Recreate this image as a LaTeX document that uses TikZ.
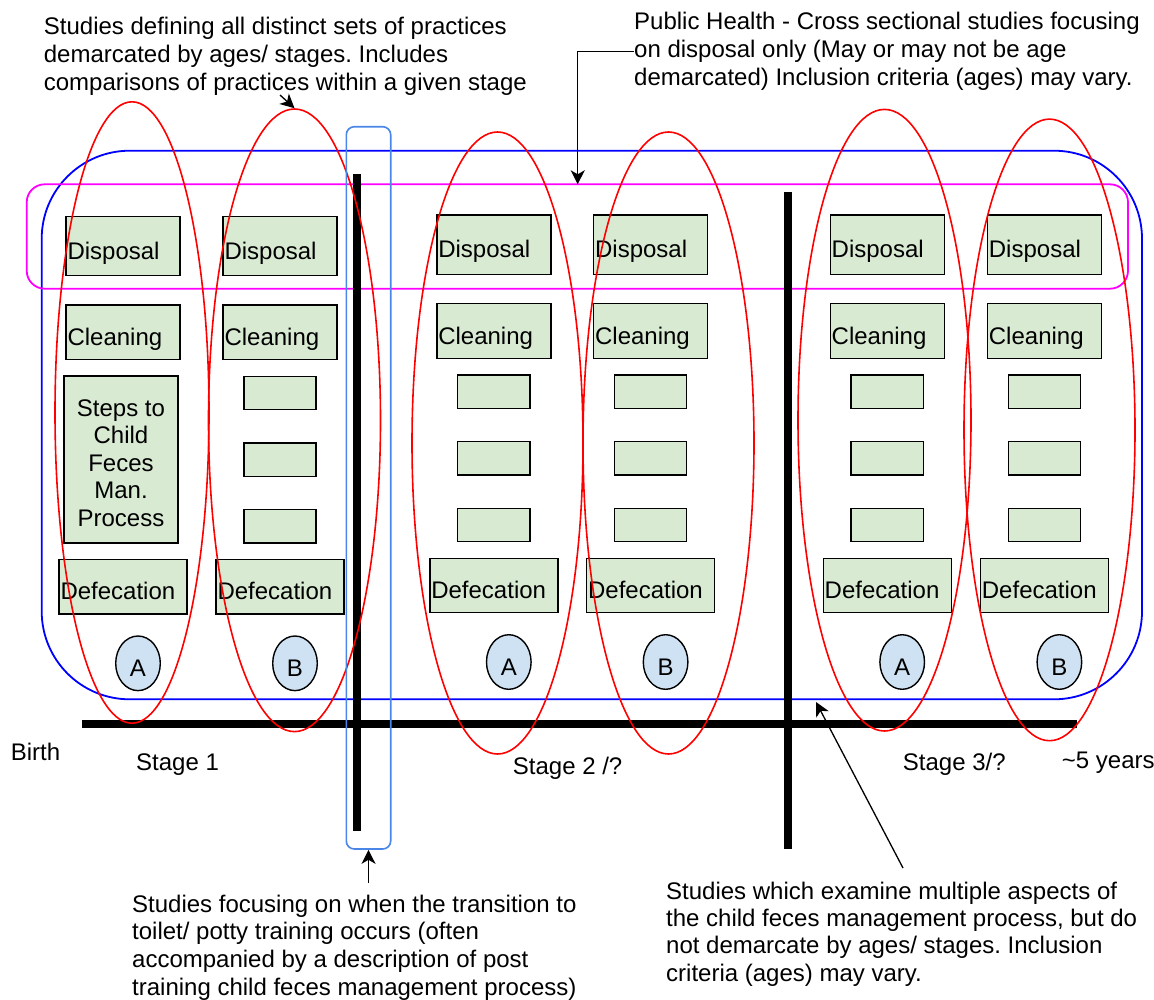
\documentclass[tikz,border=0pt]{standalone}
\usepackage{fontspec}
\setmainfont{Liberation Sans}
\usetikzlibrary{shapes.geometric,arrows.meta,calc}
\frenchspacing

\definecolor{boxgreen}{HTML}{D9EAD3}
\definecolor{tagblue}{HTML}{CFE2F3}
\definecolor{transblue}{HTML}{4A86E8}
\definecolor{frameblue}{HTML}{0000FF}
\definecolor{bandpink}{HTML}{FF00FF}
\definecolor{groupred}{HTML}{FF0000}

\tikzset{
  gbox/.style={draw=black, fill=boxgreen, line width=1.4pt, inner ysep=0pt, inner xsep=1.5pt,
    text height=26pt, text depth=0pt, align=left, minimum height=#1},
  nbox/.style={gbox=#1, text width=111pt},
  wbox/.style={gbox=#1, text width=125pt},
  sbox/.style={draw=black, fill=boxgreen, line width=1.4pt, minimum width=72.3pt,
    minimum height=33.3pt, inner sep=0pt},
  tag/.style={ellipse, draw=black, fill=tagblue, line width=1.4pt, minimum width=44.6pt,
    minimum height=54.6pt, inner sep=0pt, text height=26pt, text depth=0pt},
  group/.style={ellipse, draw=groupred, line width=1.6pt, inner sep=0pt},
  bar/.style={line width=8pt, black},
  note/.style={inner sep=0pt, anchor=base west},
  pointer/.style={line width=1.3pt, -{Stealth[length=14pt, width=14pt, inset=4pt]}}
}

\begin{document}
\begin{tikzpicture}[x=1pt, y=-1pt, font=\fontsize{24}{27.6}\selectfont]
\useasboundingbox (0,0) rectangle (1154,999);

% age-range frame and disposal band
\node[draw=frameblue, line width=1.8pt, rounded corners=88pt, minimum width=1100.3pt,
  minimum height=548.6pt, inner sep=0pt] (frame) at (591.85,425) {};
\node[draw=bandpink, line width=1.8pt, rounded corners=18pt, minimum width=1101.3pt,
  minimum height=104.4pt, inner sep=0pt] (band) at (577.35,236.5) {};

% timeline and stage dividers
\draw[bar] (81.7,724) -- (1077,724);
\draw[bar] (357,174) -- (357,831);
\draw[bar] (788,192.3) -- (788,849.3);

% practice columns
\foreach \n/\x/\dy/\t in {a1/123/1.3/A, b1/280/1.3/B, a2/493.8/0/A, b2/650.6/0/B, a3/887.2/0/A, b3/1044.4/0/B} {
  \node[nbox=59.3pt] (disp-\n) at (\x,244.7+\dy) {Disposal};
  \node[nbox=54.6pt] (clean-\n) at (\x,331+\dy) {Cleaning};
  \node[wbox=54.4pt] (def-\n) at (\x,585.5+\dy) {Defecation};
  \node[tag] (tag-\n) at (\x+15,662+\dy) {\t};
}
\foreach \n/\x/\dy in {b1/280/1.3, a2/493.8/0, b2/650.6/0, a3/887.2/0, b3/1044.4/0} {
  \node[sbox] (s1-\n) at (\x,391.7+\dy) {};
  \node[sbox] (s2-\n) at (\x,458.3+\dy) {};
  \node[sbox] (s3-\n) at (\x,525+\dy) {};
}
\node[draw=black, fill=boxgreen, line width=1.4pt, minimum width=114pt, minimum height=167pt,
  inner sep=0pt] (steps) at (121,459.5) {};
\node[inner sep=0pt, anchor=base, font=\fontsize{24}{27.5}\selectfont] (steps-text) at (121,416)
  {\begin{tabular}[t]{@{}c@{}}Steps to\\Child\\Feces\\Man.\\Process\end{tabular}};

% study groupings
\node[group, minimum width=154pt, minimum height=621.4pt] (e1) at (132,412.5) {};
\node[group, minimum width=172pt, minimum height=622.6pt] (e2) at (294.5,420.3) {};
\node[group, minimum width=171pt, minimum height=622pt] (e3) at (497.5,443) {};
\node[group, minimum width=171pt, minimum height=622pt] (e4) at (668.5,443) {};
\node[group, minimum width=173pt, minimum height=621.6pt] (e5) at (884.5,420.2) {};
\node[group, minimum width=171pt, minimum height=621.6pt] (e6) at (1049.5,429.9) {};

% transition window
\node[draw=transblue, line width=1.6pt, rounded corners=8pt, minimum width=44.4pt,
  minimum height=722.3pt, inner sep=0pt] (trans) at (368.5,487.85) {};

% annotations
\node[note, font=\fontsize{24}{28}\selectfont] (allsets) at (43.7,34)
  {\begin{tabular}[t]{@{}l@{}}Studies defining all distinct sets of practices\\demarcated by ages/ stages. Includes\\comparisons of practices within a given stage\end{tabular}};
\node[note, font=\fontsize{24}{27.9}\selectfont] (ph) at (634,29.3)
  {\begin{tabular}[t]{@{}l@{}}Public Health - Cross sectional studies focusing\\on disposal only (May or may not be age\\demarcated) Inclusion criteria (ages) may vary.\end{tabular}};
\node[note] (toilet) at (132,912.3)
  {\begin{tabular}[t]{@{}l@{}}Studies focusing on when the transition to\\toilet/ potty training occurs (often\\accompanied by a description of post\\training child feces management process)\end{tabular}};
\node[note, font=\fontsize{24}{27.4}\selectfont] (multi) at (666,899)
  {\begin{tabular}[t]{@{}l@{}}Studies which examine multiple aspects of\\the child feces management process, but do\\not demarcate by ages/ stages. Inclusion\\criteria (ages) may vary.\end{tabular}};

\node[note] (birth) at (10.7,760.7) {Birth};
\node[note] (st1) at (136,770) {Stage 1};
\node[note] (st2) at (512.7,774) {Stage 2 /?};
\node[note] (st3) at (902.7,770) {Stage 3/?};
\node[note] (five) at (1061.7,768) {\textasciitilde5 years};

% annotation pointers
\coordinate (allsets-tail) at (280,95);
\coordinate (band-hit) at (577.7,184.3);
\coordinate (toilet-tail) at (368.5,883);
\coordinate (multi-tail) at (903,868);
\coordinate (frame-hit) at (816,702);
\draw[pointer] (allsets-tail) -- (e2.north);
\draw[pointer] (ph.west) -| (band-hit);
\draw[pointer] (toilet-tail) -- (trans.south);
\draw[pointer] (multi-tail) -- (frame-hit);
\end{tikzpicture}
\end{document}
